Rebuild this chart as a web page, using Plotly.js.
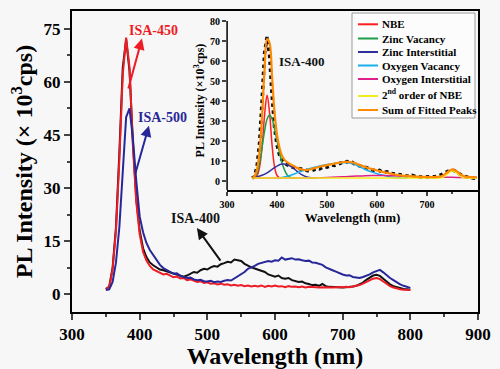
<!DOCTYPE html>
<html>
<head>
<meta charset="utf-8">
<script src="https://cdn.plot.ly/plotly-3.0.1.min.js"></script>
<style>html,body{margin:0;padding:0;background:#f6f6f6;}#chart{width:500px;height:369px;}</style>
</head>
<body>
<div id="chart"></div>
<script>
// Wavelength grid (nm) for measured spectra
const wavelength = [350,355,360,365,370,375,380,385,390,395,400,405,410,415,420,425,430,435,440,445,450,455,460,465,470,475,480,485,490,495,500,505,510,515,520,525,530,535,540,545,550,555,560,565,570,575,580,585,590,595,600,605,610,615,620,625,630,635,640,645,650,655,660,665,670,675,680,685,690,695,700,705,710,715,720,725,730,735,740,745,750,755,760,765,770,775,780,785,790,795,800];

// ISA-450 (red), ×10^3 cps
const isa450 = [1.5,2.0,7,18,38,62,72.5,64,42,26,17,12,9.5,8,7,6.5,6.2,5.6,5.8,5.2,4.8,5.0,4.5,4.6,4.0,4.2,3.8,3.5,3.7,3.2,3.4,3.0,3.1,2.8,3.0,2.7,2.8,2.5,2.7,2.4,2.6,2.3,2.5,2.2,2.4,2.2,2.5,2.1,2.4,2.2,2.5,2.2,2.3,2.0,2.3,2.1,2.2,2.0,2.2,1.9,2.1,2.0,2.1,1.9,2.0,1.9,2.0,1.9,2.0,1.9,2.0,2.1,2.0,2.2,2.3,2.6,3.0,3.5,4.0,4.4,4.6,4.3,3.6,2.9,2.3,1.9,1.6,1.4,1.3,1.2,1.2];

// ISA-500 (blue)
const isa500 = [1.2,1.4,3.5,9,19,35,50,52.5,44,32,22,17.5,14.5,12.5,11,9.5,8.3,7.4,6.8,6.2,5.8,5.9,5.2,4.9,4.6,4.7,4.2,4.0,4.1,3.7,3.6,3.8,3.4,3.6,3.5,3.8,4.0,3.9,4.5,5.0,5.6,6.3,7.2,7.5,8.0,8.6,8.9,9.0,9.4,9.2,9.6,9.5,10.4,9.8,10.0,10.2,9.8,9.9,9.6,9.4,9.5,9.0,8.9,8.6,8.3,7.6,7.3,6.8,6.4,5.9,5.6,5.3,5.4,4.9,4.7,4.6,4.9,5.2,5.6,6.2,6.6,6.9,6.2,5.3,4.6,4.0,3.3,2.8,2.4,2.0,1.8];

// ISA-400 (black)
const isa400 = [1.5,2.2,7.5,19,40,64,72,63,43,27,18,13,10.5,9,8.2,7.5,7.0,6.8,6.5,6.2,5.8,5.6,5.2,5.0,5.3,5.8,6.3,6.1,6.8,7.2,7.0,7.6,8.0,7.8,8.5,8.8,9.2,9.0,9.8,9.6,9.4,8.6,8.0,7.6,7.3,7.0,6.5,6.3,5.6,5.2,5.0,5.3,4.6,4.4,4.6,4.0,3.8,3.5,3.6,3.1,2.9,2.6,2.7,2.4,2.9,2.3,2.1,2.0,2.0,2.0,1.9,2.0,2.0,2.2,2.4,2.8,3.3,4.1,4.8,5.3,5.5,5.2,4.4,3.5,2.8,2.3,2.0,1.7,1.5,1.4,1.3];

// Inset: fitted components of ISA-400
const nbeX = [350,355,360,365,370,375,380,385,390,395,400,405,410];
const nbeY = [1.5,1.6,2.8,7,17,33,43,34,18,7,2.8,1.7,1.5];
const znVacX = [350,355,360,365,370,375,380,385,390,395,400,405,410,415,420,425,430,440];
const znVacY = [1.5,2.0,4,9,17,25,31,33,31,26,20,14,9,5.5,3.2,2.1,1.6,1.5];
const znIntX = [350,360,370,380,390,400,410,420,430,440,450,460,470,480];
const znIntY = [1.6,2.1,2.9,4.1,5.9,7.5,8.5,8.3,7.0,4.9,3.1,2.0,1.6,1.5];
const oVacX = [400,410,420,430,440,450,460,470,480,490,500,510,520,530,540,550,560,570,580,590,600,610,620,630,640,650,660];
const oVacY = [1.5,1.8,2.4,3.2,4.1,5.0,5.9,6.6,7.2,7.8,8.3,8.7,9.0,9.2,9.2,8.8,7.8,6.6,5.4,4.5,3.7,3.0,2.4,1.9,1.7,1.6,1.5];
const oIntX = [350,450,470,490,510,530,550,570,590,610,630,650,670,690,710,730,750,770,790,800];
const oIntY = [1.5,1.5,1.6,1.7,1.9,2.2,2.4,2.6,2.8,2.8,2.7,2.5,2.3,2.1,2.0,1.9,1.9,1.8,1.8,1.8];
const nbe2X = [350,400,500,600,700,720,730,735,740,745,750,755,760,765,770,775,780,800];
const nbe2Y = [1.5,1.5,1.5,1.5,1.5,1.5,1.7,2.3,3.3,4.4,5.0,4.8,3.9,2.8,2.0,1.6,1.5,1.5];
const sumX = [350,355,360,365,370,375,380,385,390,395,400,405,410,415,420,430,440,450,460,470,480,490,500,510,520,530,540,550,560,570,580,590,600,610,620,630,640,650,660,670,680,690,700,710,720,730,740,750,760,770,780,790,800];
const sumY = [1.6,2.5,6,15,33,56,71,69,52,34,23,16.5,12.5,10.6,9.5,8.0,6.6,5.8,5.5,6.1,6.8,7.5,8.0,8.5,9.0,9.4,9.6,9.4,8.6,7.6,6.7,6.0,5.3,4.7,4.1,3.6,3.1,2.8,2.6,2.4,2.2,2.1,2.0,2.0,2.1,2.5,4.3,5.8,4.8,2.9,2.1,2.0,1.9];

// Legend labels and colours for the inset components
const componentNames = ['NBE', 'Zinc Vacancy', 'Zinc Interstitial', 'Oxygen Vacancy', 'Oxygen Interstitial', '2<sup>nd</sup> order of NBE', 'Sum of Fitted Peaks'];
const componentColors = ['#ff1f1f', '#1f9e4a', '#30309a', '#1aaeea', '#e0208a', '#f2ec1e', '#ff8a00'];
const componentX = [nbeX, znVacX, znIntX, oVacX, oIntX, nbe2X, sumX];
const componentY = [nbeY, znVacY, znIntY, oVacY, oIntY, nbe2Y, sumY];

const serif = 'Liberation Serif, Times New Roman, serif';
const F = (size, color) => ({family: serif, size: size, color: color || '#000', weight: 'bold'});

const traces = [
  {x: wavelength, y: isa400, type: 'scatter', mode: 'lines', line: {color: '#111111', width: 2}, xaxis: 'x', yaxis: 'y'},
  {x: wavelength, y: isa450, type: 'scatter', mode: 'lines', line: {color: '#ee1c24', width: 2}, xaxis: 'x', yaxis: 'y'},
  {x: wavelength, y: isa500, type: 'scatter', mode: 'lines', line: {color: '#27279a', width: 2}, xaxis: 'x', yaxis: 'y'},
  {x: wavelength, y: isa400, type: 'scatter', mode: 'lines', line: {color: '#111111', width: 3.5, dash: 'dot'}, xaxis: 'x2', yaxis: 'y2'}
];
componentNames.forEach((n, i) => {
  traces.push({x: componentX[i], y: componentY[i], name: n, type: 'scatter', mode: 'lines',
    line: {color: componentColors[i], width: i === 6 ? 2.2 : 1.5, shape: 'spline'}, xaxis: 'x2', yaxis: 'y2'});
});

// manual legend (paper coords)
const PX = px => (px - 72) / 406;
const PY = py => (312 - py) / 301;
const legendRows = [24.3, 38.5, 52, 65.5, 79, 96, 110];
const shapes = [
  {type: 'rect', xref: 'paper', yref: 'paper', x0: PX(352), x1: PX(475), y0: PY(118), y1: PY(13), fillcolor: '#fcfcfc', line: {color: '#9a9a9a', width: 1}},
  // inset y-axis line (runs from the x-axis up to the 80 tick)
  {type: 'line', xref: 'x2 domain', yref: 'y2', x0: 0, x1: 0, y0: -4.5, y1: 80, line: {color: '#000', width: 1.5}}
];
const annotations = [
  {xref: 'x', yref: 'y', x: 421, y: 74.4, text: 'ISA-450', showarrow: false, font: F(14, '#ee1c24')},
  {xref: 'x', yref: 'y', x: 433, y: 49.8, text: 'ISA-500', showarrow: false, font: F(14, '#27279a')},
  {xref: 'x', yref: 'y', x: 483, y: 21.5, text: 'ISA-400', showarrow: false, font: F(14, '#111')},
  {xref: 'x', yref: 'y', x: 403.4, y: 72.2, ax: 382.7, ay: 57.7, axref: 'x', ayref: 'y', text: '', showarrow: true, arrowhead: 2, arrowsize: 1.1, arrowwidth: 2, arrowcolor: '#ee1c24'},
  {xref: 'x', yref: 'y', x: 413.7, y: 47.6, ax: 393, ay: 33.7, axref: 'x', ayref: 'y', text: '', showarrow: true, arrowhead: 2, arrowsize: 1.1, arrowwidth: 2, arrowcolor: '#27279a'},
  {xref: 'x', yref: 'y', x: 484.6, y: 18.7, ax: 521, ay: 9.1, axref: 'x', ayref: 'y', text: '', showarrow: true, arrowhead: 2, arrowsize: 1.1, arrowwidth: 2, arrowcolor: '#111'},
  {xref: 'x2', yref: 'y2', x: 450, y: 60, text: 'ISA-400', showarrow: false, font: F(13, '#111')}
];
componentNames.forEach((n, i) => {
  const yy = legendRows[i];
  shapes.push({type: 'line', xref: 'paper', yref: 'paper', x0: PX(358), x1: PX(378), y0: PY(yy), y1: PY(yy), line: {color: componentColors[i], width: 2}});
  annotations.push({xref: 'paper', yref: 'paper', x: PX(380), y: PY(yy - (i === 5 ? 2 : 0)), xanchor: 'left', yanchor: 'middle', text: n, showarrow: false, font: F(11)});
});

const bg = '#f7f7f7';
const layout = {
  width: 500, height: 369,
  margin: {l: 72, r: 22, t: 11, b: 57},
  paper_bgcolor: bg, plot_bgcolor: bg,
  showlegend: false,
  xaxis: {domain: [0, 1], range: [300, 900], tickvals: [300,400,500,600,700,800,900], ticks: 'outside', ticklen: 6, tickwidth: 2,
          showline: true, linewidth: 2, linecolor: '#000', mirror: true, showgrid: false, zeroline: false,
          minor: {tickvals: [350,450,550,650,750,850], ticks: 'outside', ticklen: 3, tickwidth: 2},
          tickfont: F(17), title: {text: 'Wavelength (nm)', font: F(24), standoff: 4}, anchor: 'y'},
  yaxis: {domain: [0, 1], range: [-5, 80], tickvals: [0,15,30,45,60,75], ticks: 'outside', ticklen: 6, tickwidth: 2,
          showline: true, linewidth: 2, linecolor: '#000', mirror: true, showgrid: false, zeroline: false,
          minor: {tickvals: [7.5,22.5,37.5,52.5,67.5], ticks: 'outside', ticklen: 3, tickwidth: 2},
          tickfont: F(17), title: {text: 'PL Intensity (× 10<sup>3</sup>cps)', font: F(24), standoff: 4}, anchor: 'x'},
  xaxis2: {domain: [0.382, 1], range: [300, 802], tickvals: [300,400,500,600,700], ticks: 'outside', ticklen: 4, tickwidth: 1.5,
           showline: true, linewidth: 1.5, linecolor: '#000', showgrid: false, zeroline: false,
           minor: {tickvals: [350,450,550,650,750], ticks: 'outside', ticklen: 2.5, tickwidth: 1.5},
           tickfont: F(10), title: {text: 'Wavelength (nm)', font: F(13), standoff: 2}, anchor: 'y2'},
  yaxis2: {domain: [0.405, 1], range: [-4.5, 85], tickvals: [0,10,20,30,40,50,60,70,80], ticks: 'outside', ticklen: 4, tickwidth: 1.5,
           showline: false, showgrid: false, zeroline: false,
           tickfont: F(10), title: {text: 'PL Intensity (×10<sup>3</sup>cps)', font: F(12), standoff: 2}, anchor: 'x2'},
  shapes: shapes,
  annotations: annotations
};

Plotly.newPlot('chart', traces, layout, {displayModeBar: false, staticPlot: true});
</script>
</body>
</html>
